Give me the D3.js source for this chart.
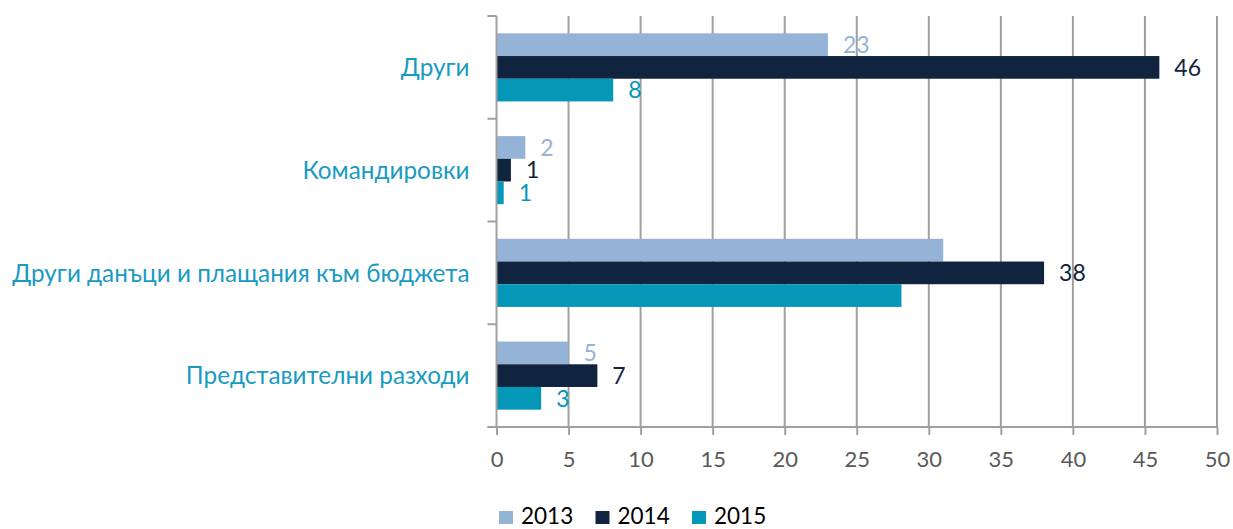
<!DOCTYPE html>
<html>
<head>
<meta charset="utf-8">
<script src="https://cdn.jsdelivr.net/npm/d3@7"></script>
<style>
  body { margin: 0; background: #fff; }
  svg text { font-family: Lato, "Open Sans", sans-serif; }
</style>
</head>
<body>
<div class="container"></div>
<script>
(function(){

    // categories, top to bottom
    var categories = ["Други", "Командировки", "Други данъци и плащания към бюджета", "Представителни разходи"];
    var years = ["2013", "2014", "2015"];

    var values2013 = [23, 2, 31, 5];
    var values2014 = [46, 1, 38, 7];
    var values2015 = [8.1, 0.5, 28.1, 3.1];

    // which data labels are visible in the original
    var show2013 = [true, true, false, true];
    var show2014 = [true, true, true, true];
    var show2015 = [true, true, false, true];

    var xTicks = [0, 5, 10, 15, 20, 25, 30, 35, 40, 45, 50];

    var colors = { "2013": "#95b3d7", "2014": "#11243f", "2015": "#0597b8" };
    var series = {
        "2013": { values: values2013, show: show2013 },
        "2014": { values: values2014, show: show2014 },
        "2015": { values: values2015, show: show2015 }
    };

    var width = 1233, height = 529;
    var gridColor = "#a0a0a0";

    var svg = d3.select(".container").append("svg")
        .attr("width", width)
        .attr("height", height);

    var x = d3.scaleLinear()
        .domain([0, 50])
        .range([496.5, 1217]);

    var y0 = d3.scaleBand()
        .domain(categories)
        .range([16, 427]);

    var y1 = d3.scaleBand()
        .domain(years)
        .range([0, y0.bandwidth()])
        .paddingOuter(0.763);

    var fmt = d3.format(".0f");

    // vertical grid
    svg.append("g")
        .selectAll("line")
        .data(xTicks.slice(1))
        .enter().append("line")
        .attr("x1", function(d) { return x(d); })
        .attr("x2", function(d) { return x(d); })
        .attr("y1", y0.range()[0])
        .attr("y2", y0.range()[1])
        .attr("stroke", gridColor)
        .attr("stroke-width", 2);

    // bars + labels
    var groups = svg.append("g")
        .selectAll("g")
        .data(categories)
        .enter().append("g")
        .attr("transform", function(d) { return "translate(0," + y0(d) + ")"; });

    years.forEach(function(yr) {
        groups.append("rect")
            .attr("x", x(0))
            .attr("y", y1(yr))
            .attr("height", y1.bandwidth())
            .attr("width", function(d, i) { return x(series[yr].values[i]) - x(0); })
            .attr("fill", colors[yr]);
    });

    years.forEach(function(yr) {
        groups.filter(function(d, i) { return series[yr].show[i]; })
            .append("text")
            .attr("x", function(d) { return x(series[yr].values[categories.indexOf(d)]) + 15; })
            .attr("y", y1(yr) + y1.bandwidth() / 2)
            .attr("dy", "0.36em")
            .attr("font-size", "23px")
            .attr("fill", colors[yr])
            .text(function(d) { return fmt(series[yr].values[categories.indexOf(d)]); });
    });

    // left axis
    var yAxis = svg.append("g").attr("transform", "translate(" + x(0) + ",0)");
    yAxis.append("line")
        .attr("y1", y0.range()[0]).attr("y2", y0.range()[1])
        .attr("stroke", gridColor).attr("stroke-width", 2);
    yAxis.selectAll(".tick")
        .data(categories.map(function(c) { return y0(c); }).concat([y0.range()[1]]))
        .enter().append("line")
        .attr("x1", -9).attr("x2", 0)
        .attr("y1", function(d) { return d; }).attr("y2", function(d) { return d; })
        .attr("stroke", gridColor).attr("stroke-width", 2);
    yAxis.selectAll("text")
        .data(categories)
        .enter().append("text")
        .attr("x", -27)
        .attr("y", function(d) { return y0(d) + y0.bandwidth() / 2; })
        .attr("dy", "0.36em")
        .attr("text-anchor", "end")
        .attr("font-size", "24.3px")
        .attr("fill", "#1a9bc2")
        .text(function(d) { return d; });

    // bottom axis
    var xAxis = svg.append("g")
        .attr("transform", "translate(0," + y0.range()[1] + ")")
        .call(d3.axisBottom(x).tickValues(xTicks).tickSize(8).tickPadding(16).tickSizeOuter(0));
    xAxis.select(".domain")
        .attr("d", "M" + (x(0) - 9) + ",0H" + x(50))
        .attr("stroke", gridColor).attr("stroke-width", 2);
    xAxis.selectAll(".tick line").attr("stroke", gridColor).attr("stroke-width", 2);
    xAxis.selectAll(".tick text")
        .attr("font-family", "Lato, sans-serif")
        .attr("font-size", "22px")
        .attr("fill", "#595959");

    // legend
    var legend = svg.append("g")
        .selectAll("g")
        .data(years)
        .enter().append("g")
        .attr("transform", function(d, i) { return "translate(" + (499 + i * 96.5) + ",511)"; });
    legend.append("rect")
        .attr("width", 14).attr("height", 13)
        .attr("fill", function(d) { return colors[d]; });
    legend.append("text")
        .attr("x", 22)
        .attr("y", 5)
        .attr("dy", "0.36em")
        .attr("font-size", "22.5px")
        .attr("fill", "#000")
        .text(function(d) { return d; });

})();
</script>
</body>
</html>
